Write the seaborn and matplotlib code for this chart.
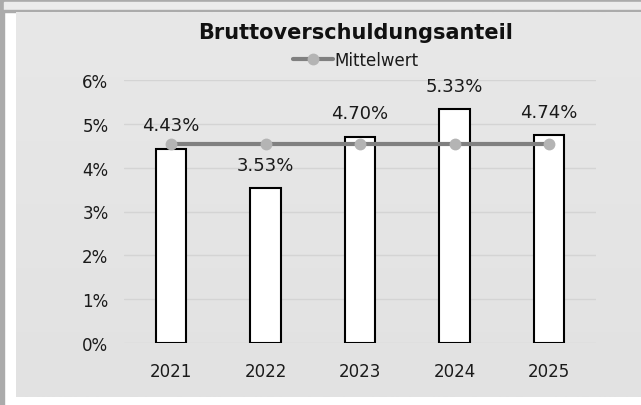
import matplotlib
matplotlib.use("Agg")
import matplotlib.pyplot as plt
import seaborn as sns
import numpy as np
import pandas as pd
from matplotlib.patches import Rectangle
from matplotlib.lines import Line2D
from matplotlib.colors import LinearSegmentedColormap

years = ["2021", "2022", "2023", "2024", "2025"]
anteil = [4.43, 3.53, 4.70, 5.33, 4.74]
mittelwert = [4.546, 4.546, 4.546, 4.546, 4.546]
y_ticks = [0, 1, 2, 3, 4, 5, 6]
title = "Bruttoverschuldungsanteil"
legend_label = "Mittelwert"

sns.set_theme(style="white")
plt.rcParams["font.family"] = ["DejaVu Sans"]

W, H = 641, 406
fig = plt.figure(figsize=(W / 100, H / 100), dpi=100)
fig.patch.set_facecolor("white")

def fx(px):
    return px / W

def fy(py):
    return 1 - py / H

# frame decorations
fig.add_artist(Rectangle((0, 0), fx(4), 1, transform=fig.transFigure, color="#ababab", zorder=0))
fig.add_artist(Rectangle((0, fy(3)), 1, 3 / H, transform=fig.transFigure, color="#ababab", zorder=0))
fig.add_artist(Rectangle((fx(4), fy(11)), 1, 8 / H, transform=fig.transFigure, color="#ececec", zorder=0))
fig.add_artist(Rectangle((0, fy(13)), 1, 2 / H, transform=fig.transFigure, color="#ababab", zorder=0))

# chart area with gradient
bg = fig.add_axes([fx(16), fy(398), 1 - fx(16), (398 - 13) / H], zorder=0)
grad = np.linspace(0, 1, 256).reshape(-1, 1)
cmap = LinearSegmentedColormap.from_list("g", ["#e8e8e8", "#e2e2e2"])
bg.imshow(grad, aspect="auto", cmap=cmap, extent=[0, 1, 0, 1], origin="upper")
bg.set_axis_off()

ax = fig.add_axes([fx(123.75), fy(344), fx(596.25 - 123.75), (344 - 81) / H], zorder=1)
ax.patch.set_alpha(0)

df = pd.DataFrame({"Jahr": years, "Anteil": anteil})
sns.barplot(data=df, x="Jahr", y="Anteil", ax=ax, color="white", edgecolor="black",
            linewidth=1.5, width=0.325, saturation=1, zorder=3)

ax.plot(range(len(years)), mittelwert, color="#808080", lw=3, marker="o",
        markersize=7.5, markerfacecolor="#b4b4b4", markeredgecolor="#b4b4b4", zorder=4)

for i, v in enumerate(anteil):
    ax.annotate(f"{v:.2f}%", (i, v), xytext=(0, 17), textcoords="offset points",
                ha="center", va="center", fontsize=13, color="#1a1a1a", zorder=5)

ax.set_ylim(0, 6)
ax.set_xlim(-0.5, 4.5)
ax.set_yticks(y_ticks)
ax.set_yticklabels([f"{t}%" for t in y_ticks])
ax.yaxis.grid(True, color="#d4d4d4", lw=1)
ax.set_axisbelow(True)
ax.tick_params(axis="y", length=0, pad=11, labelsize=12, labelcolor="#1a1a1a")
ax.tick_params(axis="x", length=0, pad=14, labelsize=12, labelcolor="#1a1a1a")
ax.set_xlabel("")
ax.set_ylabel("")
for s in ax.spines.values():
    s.set_visible(False)

fig.text(fx(356), fy(33), title, ha="center", va="center", fontsize=15,
         fontweight="bold", color="#111111")

handle = Line2D([], [], color="#808080", lw=3, marker="o", markersize=7.5,
                markerfacecolor="#b4b4b4", markeredgecolor="#b4b4b4")
fig.legend([handle], [legend_label], loc="center", bbox_to_anchor=(fx(356), fy(61)),
           frameon=False, fontsize=12, handlelength=2.4, handletextpad=0.1,
           borderpad=0, labelcolor="#1a1a1a")

fig.savefig("out.png", dpi=100)
